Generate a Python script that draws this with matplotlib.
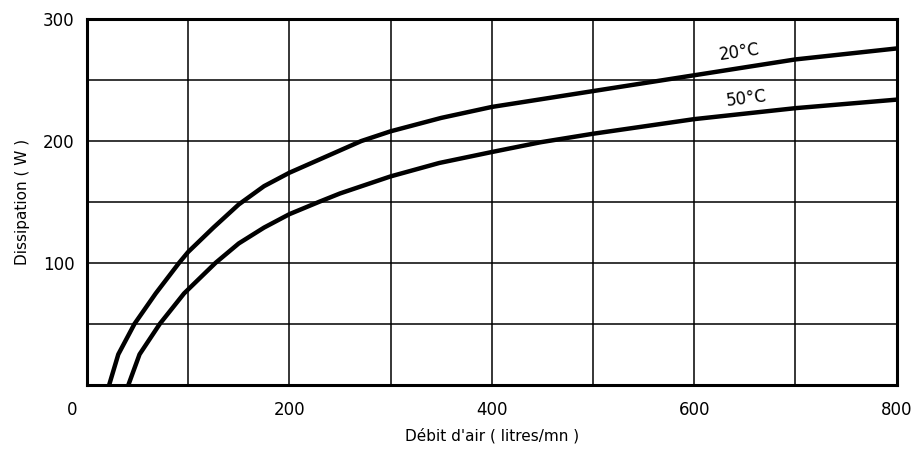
import matplotlib.pyplot as plt

# readings (air flow in l/mn, dissipation in W)
flow_20 = [22, 31, 47, 68, 91, 100, 125, 150, 175, 200, 241, 271, 300, 350,
           400, 500, 600, 700, 800]
power_20 = [0, 25, 50, 75, 100, 109, 129, 148, 163, 174, 189, 200, 208, 219,
            228, 241, 254, 267, 276]

flow_50 = [41, 52, 72, 96, 127, 150, 175, 200, 229, 250, 275, 300, 348, 400,
           448, 500, 600, 700, 800]
power_50 = [0, 25, 50, 75, 100, 116, 129, 140, 150, 157, 164, 171, 182, 191,
            199, 206, 218, 227, 234]

x_ticks = [200, 400, 600, 800]
y_ticks = [100, 200, 300]

fig = plt.figure(figsize=(9.15, 4.57), dpi=100)
ax = fig.add_axes([0.095, 0.158, 0.885, 0.800])

ax.plot(flow_20, power_20, color="black", linewidth=3.2, solid_capstyle="butt",
        solid_joinstyle="round")
ax.plot(flow_50, power_50, color="black", linewidth=3.2, solid_capstyle="butt",
        solid_joinstyle="round")

ax.set_xlim(0, 800)
ax.set_ylim(0, 300)
ax.set_xticks(range(0, 801, 100), minor=True)
ax.set_yticks(range(0, 301, 50), minor=True)
ax.set_xticks(x_ticks)
ax.set_yticks(y_ticks)
ax.grid(True, which="both", color="black", linewidth=1.1)
ax.tick_params(which="both", length=0, labelsize=12)
ax.tick_params(axis="x", pad=12)
ax.tick_params(axis="y", pad=9)
ax.annotate("0", xy=(0, 0), xytext=(-11, -18), textcoords="offset points",
            ha="center", va="center", fontsize=12)

for side in ax.spines.values():
    side.set_linewidth(2.2)

ax.text(645, 273, "20°C", rotation=8, ha="center", va="center", fontsize=12)
ax.text(652, 235, "50°C", rotation=7, ha="center", va="center", fontsize=12)

ax.set_xlabel("Débit d'air ( litres/mn )", fontsize=11, labelpad=6)
ax.set_ylabel("Dissipation ( W )", fontsize=11, labelpad=9)

fig.savefig("out.png", dpi=100)
